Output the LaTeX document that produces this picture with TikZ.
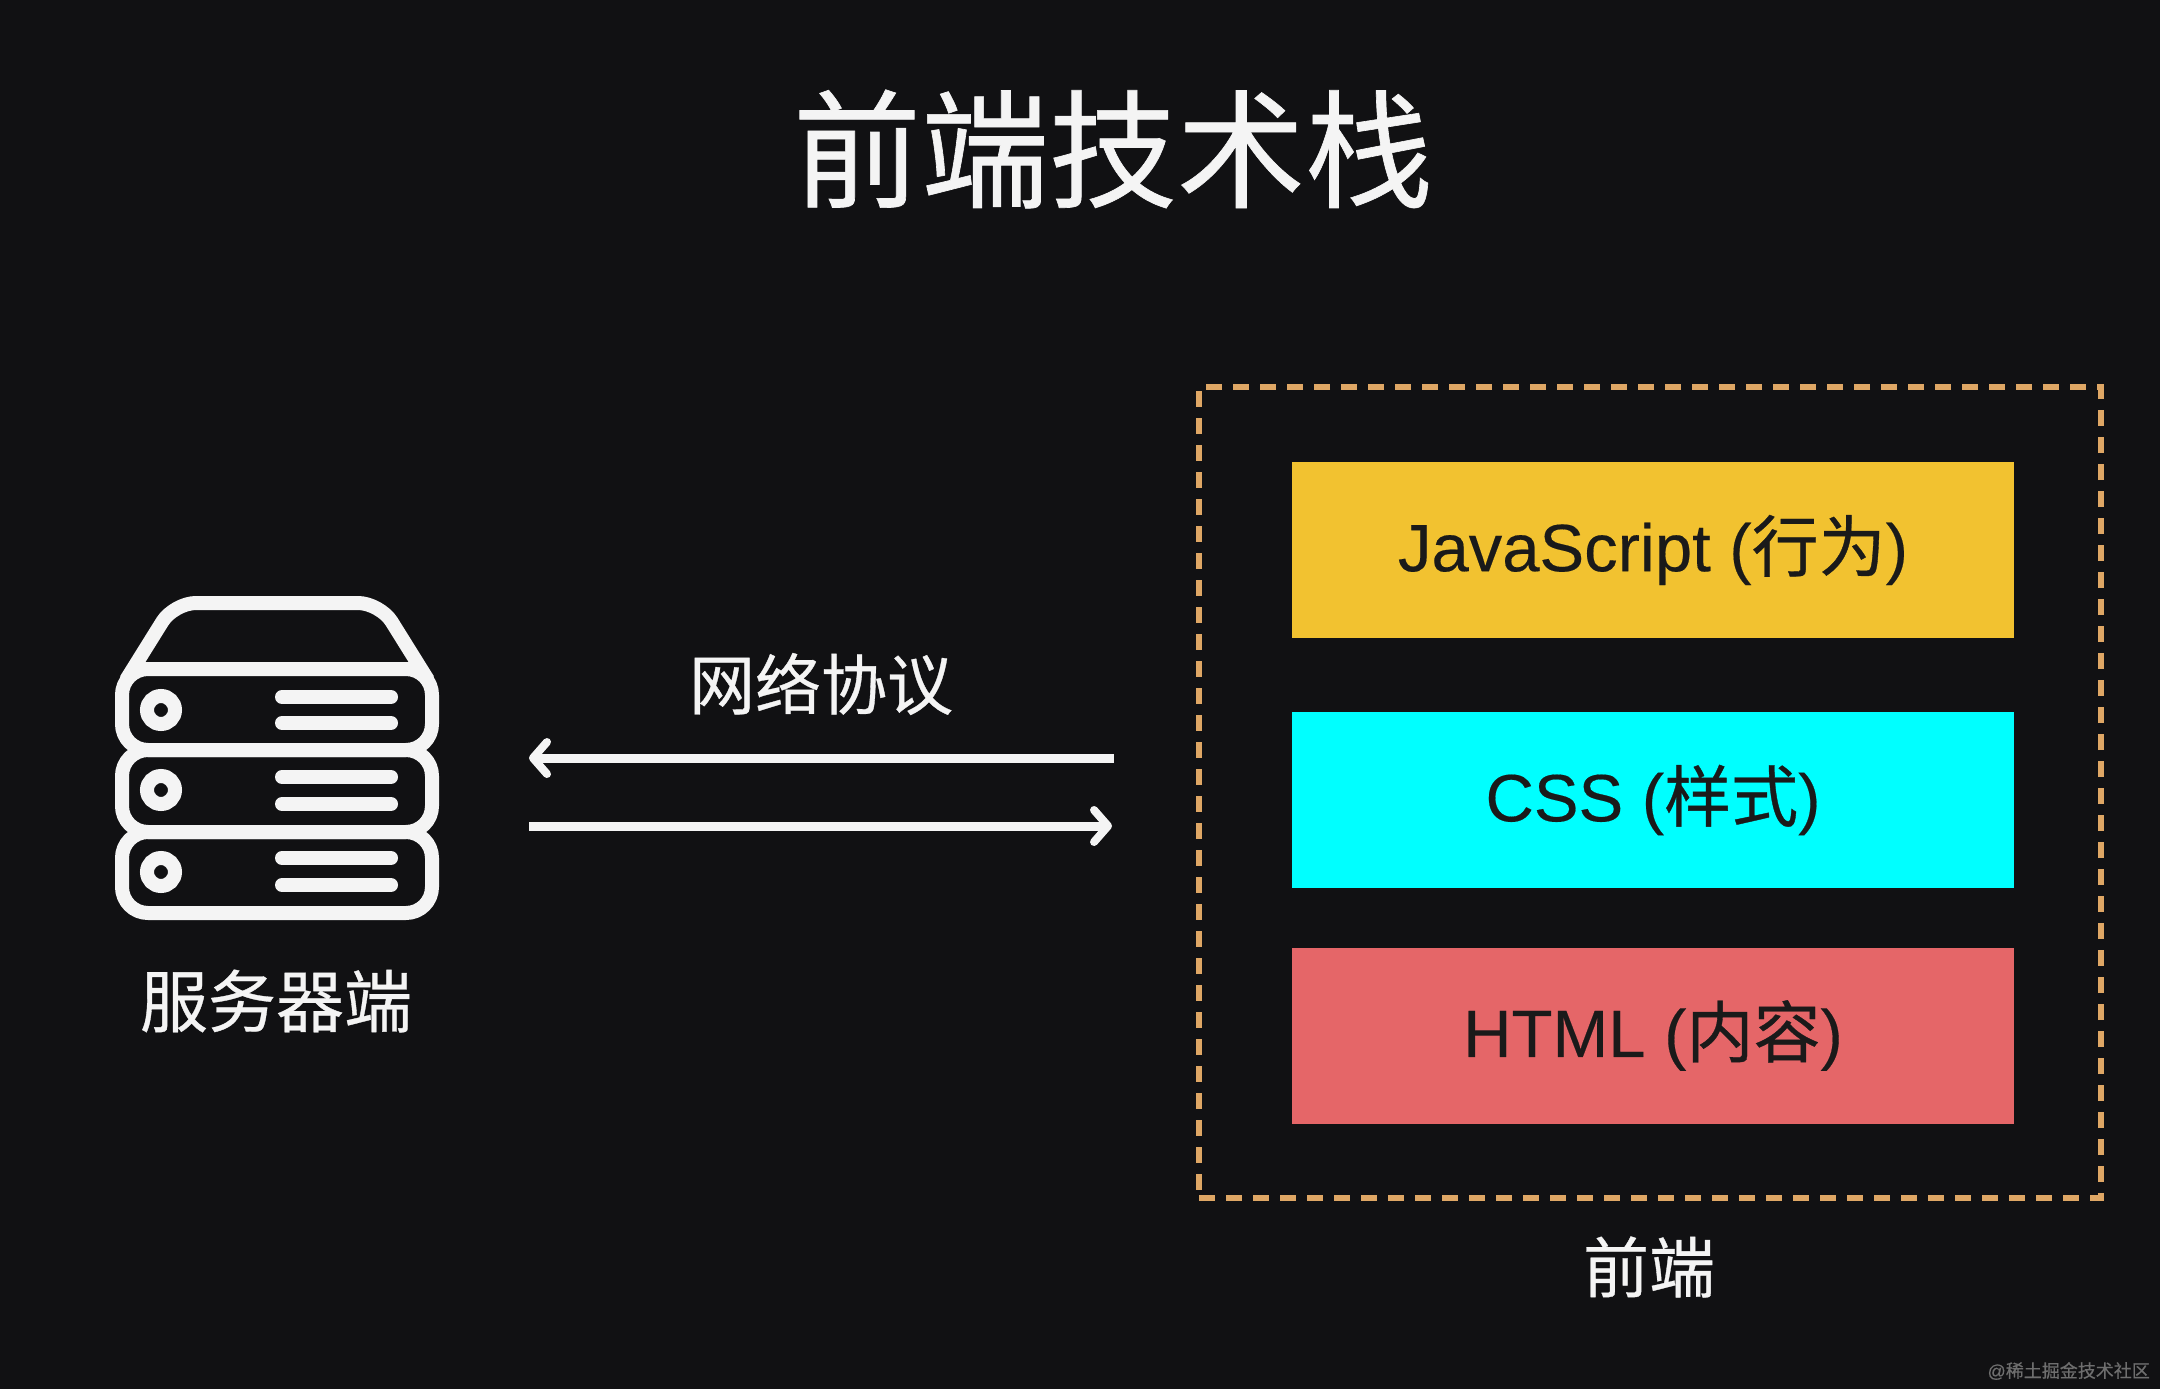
\documentclass[tikz,border=0pt]{standalone}
\usepackage{fontspec}
\setmainfont[FakeBold=0.25]{Liberation Sans}
\newfontfamily\cjk[FakeBold=0.5]{Noto Sans CJK SC}
\usetikzlibrary{arrows.meta}
\definecolor{bg}{HTML}{111113}
\definecolor{ink}{HTML}{F4F4F4}
\definecolor{jsfill}{HTML}{F2C230}
\definecolor{cssfill}{HTML}{00FFFF}
\definecolor{htmlfill}{HTML}{E56668}
\definecolor{dashc}{HTML}{DFA765}
\definecolor{darkink}{HTML}{1A1A1A}
\definecolor{wm}{HTML}{6E6E6E}
\tikzset{
  layerbox/.style={draw=none,minimum width=722pt,minimum height=176pt,inner sep=0pt,font=\fontsize{67}{70}\selectfont,text=darkink},
  cnlabel/.style={inner sep=0pt,text=ink,font=\cjk\fontsize{66}{70}\selectfont},
  flow/.style={draw=ink,line width=9pt,-{Straight Barb[length=14pt,width=32pt,line width=8pt,round]}},
  rack/.style={draw=ink,line width=14pt,rounded corners=26pt,line join=round},
  bar/.style={draw=ink,line width=14pt,line cap=round},
}
\begin{document}
\begin{tikzpicture}[x=1pt,y=-1pt]
\useasboundingbox (0,0) rectangle (2160,1389);
\fill[bg] (0,0) rectangle (2160,1389);
\node[inner sep=0pt,text=ink,font=\cjk\fontsize{128}{130}\selectfont] (title) at (1113,149) {前端技术栈};
% server icon
\draw[rack,rounded corners=22pt] (126,680) -- (174,603) -- (380,603) -- (428,680);
\foreach \a/\b in {669/750,750/832,832/913}{
  \draw[rack] (122,\a) rectangle (432,\b);
}
\foreach \y in {710,790,872}{
  \draw[ink,line width=14pt] (161,\y) circle (14pt);
}
\foreach \y in {697,723,777,804,858,885}{
  \draw[bar] (282,\y) -- (391,\y);
}
\node[cnlabel,font=\cjk\fontsize{68}{70}\selectfont] (server) at (276,1001) {服务器端};
% arrows
\node[cnlabel] (proto) at (821,684) {网络协议};
\coordinate (leftA) at (1114,758);
\coordinate (leftB) at (529,758);
\coordinate (rightA) at (529,826);
\coordinate (rightB) at (1112,826);
\draw[flow] (leftA) -- (leftB);
\draw[flow] (rightA) -- (rightB);
% frontend
\node[draw=dashc,line width=6pt,dash pattern=on 16pt off 11pt,minimum width=902pt,minimum height=811pt,inner sep=0pt] (front) at (1650,792.5) {};
\node[layerbox,fill=jsfill] (js) at (1653,550) {\raisebox{-4pt}{JavaScript ({\cjk 行为})}};
\node[layerbox,fill=cssfill] (css) at (1653,800) {\raisebox{-4pt}{CSS ({\cjk 样式})}};
\node[layerbox,fill=htmlfill] (html) at (1653,1035.5) {\raisebox{-4pt}{HTML ({\cjk 内容})}};
\node[cnlabel] (frontlabel) at (1649,1267) {前端};
\node[anchor=east,inner sep=0pt,text=wm,font=\fontsize{18}{20}\selectfont] (mark) at (2150,1371) {@{\cjk 稀土掘金技术社区}};
\end{tikzpicture}
\end{document}
